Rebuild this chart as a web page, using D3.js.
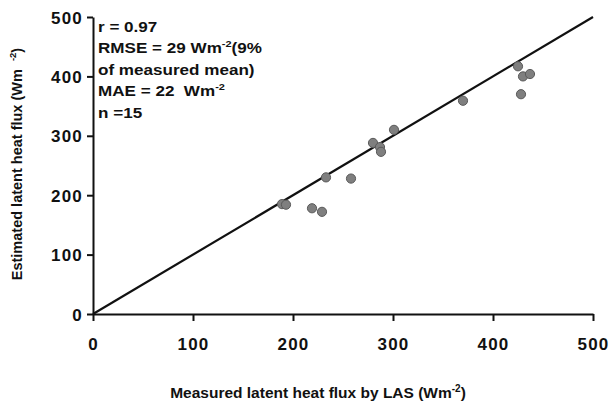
<!DOCTYPE html>
<html>
<head>
<meta charset="utf-8">
<script src="https://cdn.jsdelivr.net/npm/d3@7"></script>
<style>
  body { margin: 0; background: #fff; }
  svg text { font-family: "Liberation Sans", Arial, sans-serif; font-weight: bold; fill: #111; }
</style>
</head>
<body>
<div id="chart"></div>
<script>
// measured (LAS) vs estimated latent heat flux, W m-2
const measured = [189, 193, 219, 229, 233, 258, 280, 287, 288, 301, 370, 425, 428, 430, 437];
const estimated = [185, 184, 178, 172, 230, 228, 288, 281, 273, 310, 359, 417, 370, 400, 404];
const ticks = [0, 100, 200, 300, 400, 500];
const statLines = [
  ["r = 0.97"],
  ["RMSE = 29 Wm", "-2", "(9%"],
  ["of measured mean)"],
  ["MAE = 22\u00a0 Wm", "-2"],
  ["n =15"],
];

const width = 611, height = 409;
const margin = { top: 17, right: 18, bottom: 95, left: 93 };

const svg = d3.select("#chart").append("svg")
  .attr("width", width).attr("height", height);

const x = d3.scaleLinear().domain([0, 500]).range([margin.left, width - margin.right]);
const y = d3.scaleLinear().domain([0, 500]).range([height - margin.bottom, margin.top]);

// axes
const gx = svg.append("g")
  .attr("transform", `translate(0,${y(0)})`)
  .call(d3.axisBottom(x).tickValues(ticks).tickSize(7).tickPadding(17).tickSizeOuter(0));
const gy = svg.append("g")
  .attr("transform", `translate(${x(0)},0)`)
  .call(d3.axisLeft(y).tickValues(ticks).tickSize(6).tickPadding(4).tickSizeOuter(0));

[gx, gy].forEach((g) => {
  g.select(".domain").attr("stroke", "#111").attr("stroke-width", 2);
  g.selectAll(".tick line").attr("stroke", "#111").attr("stroke-width", 2);
  g.selectAll(".tick text")
    .attr("font-size", 17)
    .attr("letter-spacing", 1.2)
    .attr("fill", "#111");
});
gy.selectAll(".tick text").attr("dy", "0.36em");

// 1:1 line
svg.append("line")
  .attr("x1", x(0)).attr("y1", y(0))
  .attr("x2", x(500)).attr("y2", y(500))
  .attr("stroke", "#111").attr("stroke-width", 2.2);

// points
svg.append("g").selectAll("circle")
  .data(measured.map((m, i) => [m, estimated[i]]))
  .join("circle")
  .attr("cx", (d) => x(d[0]))
  .attr("cy", (d) => y(d[1]))
  .attr("r", 4.6)
  .attr("fill", "#7f7f7f")
  .attr("stroke", "#5a5a5a")
  .attr("stroke-width", 1);

// stats box (source text is a bit wide, so stretch it horizontally)
const stats = svg.append("g")
  .attr("transform", `translate(${x(0) + 5},0) scale(1.22,1)`)
  .append("text").attr("font-size", 14);
statLines.forEach((parts, i) => {
  const line = stats.append("tspan")
    .attr("x", 0)
    .attr("y", 32 + i * 21.5);
  parts.forEach((p, j) => {
    const t = line.append("tspan").text(p);
    if (j === 1) t.attr("font-size", 9).attr("dy", -6);
    if (j === 2) t.attr("dy", 6);
  });
});

// axis titles
const xt = svg.append("text")
  .attr("x", 318).attr("y", 398)
  .attr("text-anchor", "middle")
  .attr("font-size", 15.5);
xt.append("tspan").text("Measured latent heat flux by LAS (Wm");
xt.append("tspan").text("-2").attr("font-size", 10).attr("dy", -6);
xt.append("tspan").text(")").attr("dy", 6);

const yt = svg.append("text")
  .attr("transform", "translate(22,164) rotate(-90)")
  .attr("text-anchor", "middle")
  .attr("font-size", 14.5);
yt.append("tspan").text("Estimated latent heat flux (Wm\u00a0\u00a0");
yt.append("tspan").text("-2").attr("font-size", 9.5).attr("dy", -6);
yt.append("tspan").text(")").attr("dy", 6);
</script>
</body>
</html>
